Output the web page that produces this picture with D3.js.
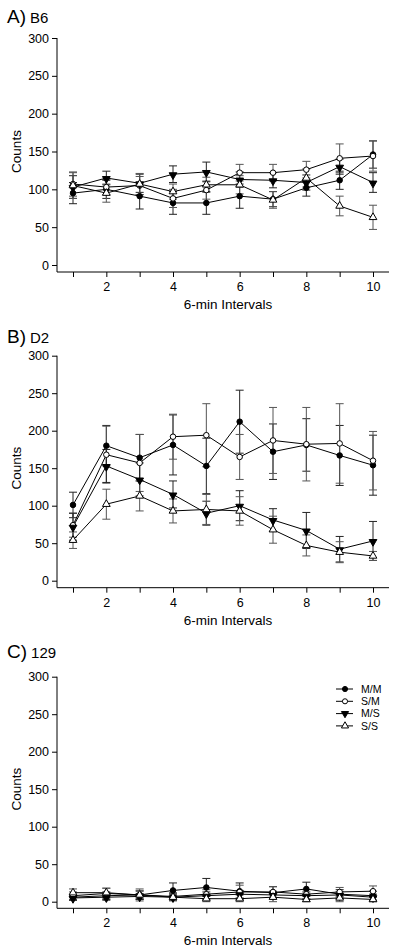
<!DOCTYPE html>
<html><head><meta charset="utf-8">
<script src="https://cdn.jsdelivr.net/npm/d3@7"></script>
<style>
body{margin:0;background:#fff;}
svg{display:block;font-family:"Liberation Sans",Arial,sans-serif;}
</style></head>
<body>
<svg id="chart" width="400" height="952"></svg>
<script>
// ---- data ----
const intervals = [1,2,3,4,5,6,7,8,9,10];
const xTickLabels = [2,4,6,8,10];
const yTickValues = [0,50,100,150,200,250,300];
const seriesNames = ["M/M","S/M","M/S","S/S"];
const panelLabels = ["A)","B)","C)"];
const strainNames = ["B6","D2","129"];
const xAxisTitle = "6-min Intervals";
const yAxisTitle = "Counts";

// Panel A (B6)
const b6_MM = [95,100,91,82,82,91,87,102,112,146];
const b6_SM = [107,103,105,88,99,122,122,126,141,144];
const b6_MS = [103,115,108,120,123,113,112,109,130,109];
const b6_SS = [105,95,107,97,106,106,86,115,78,63];
const b6_MM_se = [14,12,17,15,15,16,10,11,12,18];
const b6_SM_se = [16,10,12,12,12,11,11,11,19,20];
const b6_MS_se = [15,9,12,11,13,10,10,10,10,13];
const b6_SS_se = [17,12,14,10,10,12,11,12,13,16];

// Panel B (D2)
const d2_MM = [101,180,164,181,153,212,172,181,167,154];
const d2_SM = [74,168,157,192,194,165,187,182,183,160];
const d2_MS = [72,153,135,115,90,100,81,67,42,53];
const d2_SS = [54,102,113,93,95,93,68,47,38,33];
const d2_MM_se = [17,27,31,40,37,42,37,35,40,40];
const d2_SM_se = [16,38,38,30,42,30,44,49,53,39];
const d2_MS_se = [18,22,22,18,16,20,15,24,17,26];
const d2_SS_se = [11,20,20,16,20,19,18,14,14,6];

// Panel C (129)
const s129_MM = [6,8,9,15,19,14,12,17,10,8];
const s129_SM = [8,11,9,7,10,13,13,10,13,14];
const s129_MS = [5,6,7,6,8,10,9,8,9,6];
const s129_SS = [12,12,9,6,4,4,6,3,5,3];
const s129_MM_se = [4,5,5,10,12,11,8,9,6,6];
const s129_SM_se = [5,7,6,5,6,9,7,6,6,7];
const s129_MS_se = [3,4,4,4,5,5,5,5,4,4];
const s129_SS_se = [5,6,8,5,4,5,6,4,5,3];

const panelData = [
  {means:[b6_MM,b6_SM,b6_MS,b6_SS], ses:[b6_MM_se,b6_SM_se,b6_MS_se,b6_SS_se]},
  {means:[d2_MM,d2_SM,d2_MS,d2_SS], ses:[d2_MM_se,d2_SM_se,d2_MS_se,d2_SS_se]},
  {means:[s129_MM,s129_SM,s129_MS,s129_SS], ses:[s129_MM_se,s129_SM_se,s129_MS_se,s129_SS_se]}
];

// ---- layout ----
const layout = [
  {top:38, zero:265, axisY:272, titleY:23},
  {top:355.7, zero:580.7, axisY:587.7, titleY:343},
  {top:676.7, zero:901.7, axisY:908.3, titleY:658}
];
const axisX = 57, axisRight = 389;
const x = d3.scaleLinear().domain([1,10]).range([73,373]);

// marker styles: filled circle, open circle, filled down-tri, open up-tri
const markerDefs = [
  {type:d3.symbolCircle, size:24, fill:"#000"},
  {type:d3.symbolCircle, size:24, fill:"#fff"},
  {type:d3.symbolTriangle, size:26, fill:"#000", rot:180},
  {type:d3.symbolTriangle, size:26, fill:"#fff", rot:0}
];

const svg = d3.select("#chart");

layout.forEach((L,pi) => {
  const y = d3.scaleLinear().domain([0,300]).range([L.zero, L.top]);
  const g = svg.append("g");

  // title
  const t = g.append("text").attr("x",7).attr("y",L.titleY).attr("fill","#000");
  t.append("tspan").attr("font-size","19px").text(panelLabels[pi]);
  t.append("tspan").attr("font-size","15px").attr("dx","4").text(strainNames[pi]);

  // y axis
  const ya = g.append("g").attr("transform",`translate(${axisX},0)`)
    .call(d3.axisLeft(y).tickValues(yTickValues).tickSize(5).tickPadding(3).tickSizeOuter(0));
  ya.select(".domain").attr("d",`M0,${L.top}V${L.axisY}`);
  ya.selectAll("text").attr("font-size","12.5px").attr("font-family","Liberation Sans, Arial, sans-serif").attr("fill","#000");
  ya.selectAll("line,path").attr("stroke","#000");

  // x axis
  const xa = g.append("g").attr("transform",`translate(0,${L.axisY})`)
    .call(d3.axisBottom(x).tickValues(intervals).tickSize(5).tickPadding(5)
      .tickFormat(d => xTickLabels.includes(d) ? d : ""));
  xa.select(".domain").attr("d",`M${axisX},0H${axisRight}`);
  xa.selectAll("text").attr("font-size","12.5px").attr("font-family","Liberation Sans, Arial, sans-serif").attr("fill","#000");
  xa.selectAll("line,path").attr("stroke","#000");

  // axis titles
  g.append("text").attr("x",(axisX+axisRight)/2+5).attr("y",L.axisY+37)
    .attr("text-anchor","middle").attr("font-size","13.5px").text(xAxisTitle);
  g.append("text").attr("transform",`translate(21,${(L.top+L.zero)/2}) rotate(-90)`)
    .attr("text-anchor","middle").attr("font-size","13.5px").text(yAxisTitle);

  const D = panelData[pi];
  // error bars
  D.means.forEach((m,si) => {
    const se = D.ses[si];
    const eb = g.append("g").attr("stroke",si%2===0?"#222":"#555").attr("stroke-width",1);
    intervals.forEach((iv,k) => {
      const cx = x(iv), y1 = y(m[k]+se[k]), y2 = y(Math.max(0,m[k]-se[k]));
      eb.append("line").attr("x1",cx).attr("x2",cx).attr("y1",y1).attr("y2",y2);
      eb.append("line").attr("x1",cx-4).attr("x2",cx+4).attr("y1",y1).attr("y2",y1);
      eb.append("line").attr("x1",cx-4).attr("x2",cx+4).attr("y1",y2).attr("y2",y2);
    });
  });
  // lines
  const line = d3.line().x((d,k)=>x(intervals[k])).y(d=>y(d));
  D.means.forEach(m => {
    g.append("path").attr("d",line(m)).attr("fill","none").attr("stroke","#000").attr("stroke-width",1);
  });
  // markers
  D.means.forEach((m,si) => {
    const md = markerDefs[si];
    const sym = d3.symbol().type(md.type).size(md.size);
    g.selectAll(null).data(m).enter().append("path")
      .attr("d",sym)
      .attr("transform",(d,k)=>`translate(${x(intervals[k])},${y(d)+(md.rot===180?0.8:0)}) rotate(${md.rot||0})`)
      .attr("fill",md.fill).attr("stroke","#000").attr("stroke-width",1);
  });

  // legend in panel C
  if (pi === 2) {
    const lg = g.append("g");
    seriesNames.forEach((nm,si) => {
      const ly = 689 + si*12.3;
      lg.append("line").attr("x1",336).attr("x2",353).attr("y1",ly).attr("y2",ly).attr("stroke","#000").attr("stroke-width",1);
      const md = markerDefs[si];
      lg.append("path").attr("d",d3.symbol().type(md.type).size(md.size*0.85))
        .attr("transform",`translate(345,${ly}) rotate(${md.rot||0})`)
        .attr("fill",md.fill).attr("stroke","#000").attr("stroke-width",1);
      lg.append("text").attr("x",361).attr("y",ly+3.8).attr("font-size","10.5px").text(nm);
    });
  }
});
</script>
</body></html>
